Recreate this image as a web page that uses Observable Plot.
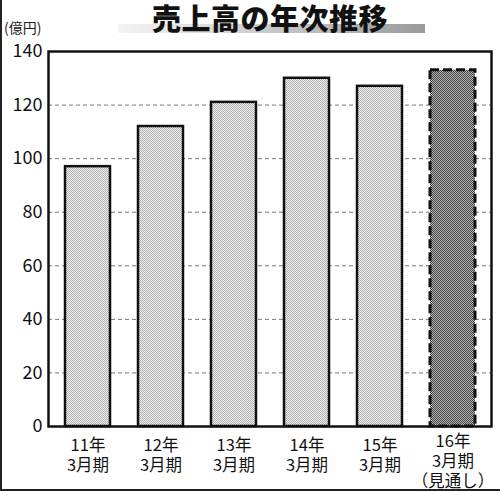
<!DOCTYPE html>
<html>
<head>
<meta charset="utf-8">
<script src="https://cdn.jsdelivr.net/npm/d3@7"></script>
<script src="https://cdn.jsdelivr.net/npm/@observablehq/plot@0.6"></script>
<style>
  html, body { margin: 0; padding: 0; background: #fff; }
  #wrap { position: relative; width: 500px; height: 492px; overflow: hidden; font-family: "Noto Sans CJK JP", "Noto Sans", sans-serif; color: #111; }
  #head { position: relative; height: 30px; }
  #stripe { position: absolute; left: 118px; top: 24px; width: 307px; height: 9px; z-index: 1;
    background: linear-gradient(to right, #f4f4f4, #d2d2d2 40%, #9a9a9a); }
  #title { position: absolute; left: 0; top: 1px; width: 540px; text-align: center; font-size: 29px; line-height: 32px; font-weight: 900; letter-spacing: 0.5px; color: #111; z-index: 2; }
  #unit { position: absolute; left: 4px; top: 18px; font-size: 14px; line-height: 18px; color: #222; z-index: 2; }
  #lineL { position: absolute; left: 0; top: 0; width: 2px; height: 491px; background: #222; }
  #lineB { position: absolute; left: 0; top: 489px; width: 500px; height: 2px; background: #222; }
  #chart svg { display: block; }
</style>
</head>
<body>
<div id="wrap">
  <div id="head">
    <div id="stripe"></div>
    <div id="title">売上高の年次推移</div>
    <div id="unit">(億円)</div>
  </div>
  <div id="chart"></div>
  <div id="lineL"></div>
  <div id="lineB"></div>
</div>
<script>
// ---- data ----
const categories = ["11年3月期", "12年3月期", "13年3月期", "14年3月期", "15年3月期", "16年3月期"];
const sales = [97, 112, 121, 130, 127, 133];
const forecast = [false, false, false, false, false, true];
const tickLabels = ["11年\n3月期", "12年\n3月期", "13年\n3月期", "14年\n3月期", "15年\n3月期", "16年\n3月期\n（見通し）"];
const yTicks = [0, 20, 40, 60, 80, 100, 120, 140];
const gridValues = [20, 40, 60, 80, 100, 120];

const rows = categories.map((c, i) => ({cat: c, value: sales[i], forecast: forecast[i], label: tickLabels[i]}));
const actual = rows.filter(d => !d.forecast);
const projected = rows.filter(d => d.forecast);

const chart = Plot.plot({
  width: 500,
  height: 462,
  marginTop: 21,
  marginBottom: 66,
  marginLeft: 48,
  marginRight: 9,
  style: {fontFamily: "'Noto Sans CJK JP', 'Noto Sans', sans-serif", color: "#111", background: "transparent"},
  x: {type: "band", domain: categories, paddingInner: 0.39, paddingOuter: 0.195, axis: null},
  y: {domain: [0, 140], axis: null},
  marks: [
    Plot.ruleY(gridValues, {stroke: "#777", strokeWidth: 1, strokeDasharray: "4,3"}),
    Plot.barY(actual, {x: "cat", y: "value", fill: "url(#dotsLight)", stroke: "#111", strokeWidth: 2.5}),
    Plot.barY(projected, {x: "cat", y: "value", fill: "url(#dotsDark)", stroke: "#111", strokeWidth: 3, strokeDasharray: "9,4"}),
    Plot.axisY({ticks: yTicks, tickSize: 0, tickPadding: 6, fontSize: 18, label: null}),
    Plot.text(actual, {x: "cat", text: "label", frameAnchor: "bottom", lineAnchor: "top", dy: 10, fontSize: 16.5, lineHeight: 1.22, fill: "#111"}),
    Plot.text(projected, {x: "cat", text: "label", frameAnchor: "bottom", lineAnchor: "top", dy: 6, fontSize: 16.5, lineHeight: 1.22, fill: "#111"}),
    Plot.frame({stroke: "#111", strokeWidth: 2.5})
  ]
});

// halftone-like dot patterns
const ns = "http://www.w3.org/2000/svg";
const defs = document.createElementNS(ns, "defs");
function makePattern(id, bg, dot) {
  const p = document.createElementNS(ns, "pattern");
  p.setAttribute("id", id);
  p.setAttribute("patternUnits", "userSpaceOnUse");
  p.setAttribute("width", "2");
  p.setAttribute("height", "2");
  const r0 = document.createElementNS(ns, "rect");
  r0.setAttribute("width", "2"); r0.setAttribute("height", "2"); r0.setAttribute("fill", bg);
  const r1 = document.createElementNS(ns, "rect");
  r1.setAttribute("width", "1"); r1.setAttribute("height", "1"); r1.setAttribute("fill", dot);
  const r2 = document.createElementNS(ns, "rect");
  r2.setAttribute("x", "1"); r2.setAttribute("y", "1");
  r2.setAttribute("width", "1"); r2.setAttribute("height", "1"); r2.setAttribute("fill", dot);
  p.appendChild(r0); p.appendChild(r1); p.appendChild(r2);
  defs.appendChild(p);
}
makePattern("dotsLight", "#f0f0f0", "#b0b0b0");
makePattern("dotsDark", "#b8b8b8", "#404040");
chart.insertBefore(defs, chart.firstChild);

document.getElementById("chart").appendChild(chart);
</script>
</body>
</html>
